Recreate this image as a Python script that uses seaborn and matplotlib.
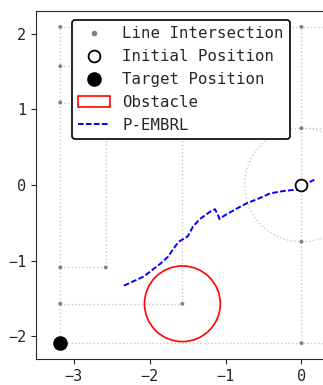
import numpy as np
import pandas as pd
import matplotlib
matplotlib.use("Agg")
import matplotlib.pyplot as plt
import seaborn as sns
from matplotlib.patches import Circle, Patch
from matplotlib.lines import Line2D

# grid intersections of the path lines
inter_x = [-3.18, -3.18, -3.18, 0.0, 0.0, 0.0, -3.18, -2.58, -3.18, -1.57, 0.0]
inter_y = [2.09, 1.57, 1.09, 2.09, 0.75, -0.75, -1.09, -1.09, -1.57, -1.57, -2.09]

# dotted guide segments (x0, x1, y0, y1)
seg_x0 = [-3.18, -2.58, -1.57, 0.0, -3.18, -3.18, -3.18, 0.0, -3.18, -3.18, -3.18]
seg_x1 = [-3.18, -2.58, -1.57, 0.0, 0.4, -0.5, -0.5, 0.4, -2.58, -1.57, 0.4]
seg_y0 = [-2.09, -1.09, -1.57, -2.09, 2.09, 1.57, 1.09, 0.75, -1.09, -1.57, -2.09]
seg_y1 = [2.09, 2.0, 2.0, 2.09, 2.09, 1.57, 1.09, 0.75, -1.09, -1.57, -2.09]
guide_radius = 0.75

start = (0.0, 0.0)
target = (-3.18, -2.09)
obstacle_center = (-1.57, -1.57)
obstacle_radius = 0.5

# P-EMBRL trajectory
traj_x = [-2.34, -2.08, -1.86, -1.76, -1.70, -1.62, -1.50, -1.43, -1.34, -1.20,
          -1.14, -1.10, -1.08, -1.01, -0.85, -0.72, -0.59, -0.41, -0.24, -0.06,
          -0.02, 0.07, 0.17]
traj_y = [-1.33, -1.21, -1.04, -0.95, -0.86, -0.75, -0.68, -0.55, -0.45, -0.35,
          -0.32, -0.40, -0.45, -0.40, -0.31, -0.24, -0.19, -0.11, -0.08, -0.06,
          -0.03, 0.02, 0.07]

sns.set_style("ticks")
plt.rcParams["font.family"] = ["DejaVu Sans Mono"]
plt.rcParams["font.size"] = 11

fig = plt.figure(figsize=(3.23, 3.85), dpi=100)
ax = fig.add_axes([36 / 323, 26 / 385, 292 / 323, 348 / 385])

for x0, x1, y0, y1 in zip(seg_x0, seg_x1, seg_y0, seg_y1):
    ax.plot([x0, x1], [y0, y1], ls=":", color="#c8c8c8", lw=1, zorder=1)
ax.add_patch(Circle(start, guide_radius, fill=False, ls=":", ec="#c8c8c8", lw=1, zorder=1))

sns.scatterplot(x=inter_x, y=inter_y, color="gray", s=8, edgecolor="none", ax=ax, zorder=3)
ax.add_patch(Circle(obstacle_center, obstacle_radius, fill=False, ec="red", lw=1.2, zorder=2))

dash = (0, (2.9, 1.2))
df = pd.DataFrame({"x": traj_x, "y": traj_y})
sns.lineplot(data=df, x="x", y="y", sort=False, estimator=None, color="blue",
             lw=1.4, ls=dash, ax=ax, zorder=4)

ax.plot(*start, "o", mfc="white", mec="black", ms=8.5, mew=1.3, zorder=5)
ax.plot(*target, "o", color="black", ms=9.5, zorder=5)

ax.set_xlim(-3.5, 0.35)
ax.set_ylim(-2.3, 2.3)
ax.set_xticks([-3, -2, -1, 0])
ax.set_yticks([-2, -1, 0, 1, 2])
ax.set_xlabel("")
ax.set_ylabel("")
ax.spines["right"].set_visible(False)

handles = [
    Line2D([], [], marker="o", ls="none", color="gray", ms=3),
    Line2D([], [], marker="o", ls="none", mfc="white", mec="black", ms=8.5, mew=1.3),
    Line2D([], [], marker="o", ls="none", color="black", ms=9.5),
    Patch(fc="none", ec="red", lw=1.2),
    Line2D([], [], color="blue", ls=dash, lw=1.4),
]
labels = ["Line Intersection", "Initial Position", "Target Position", "Obstacle", "P-EMBRL"]
leg = ax.legend(handles, labels, loc="upper left", bbox_to_anchor=(0.123, 0.974),
                borderaxespad=0, frameon=True, framealpha=1, edgecolor="black",
                fontsize=11.3)
leg.get_frame().set_linewidth(1.2)

fig.savefig("out.png", dpi=100)
